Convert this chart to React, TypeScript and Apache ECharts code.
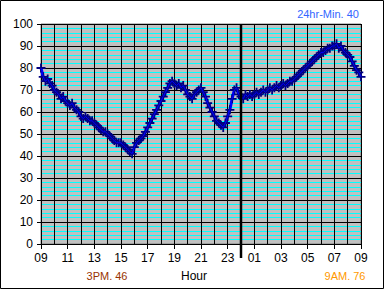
import React, { useEffect, useRef } from "react";
import * as echarts from "echarts";

// Temperature readings every 10 minutes, from 09:00 to 09:00 next day
const sampleMinutes = 10;
const startHour = 9;
const temps = [
  80, 76, 74, 75, 73, 72,
  70, 69, 68, 66, 67, 65,
  64, 63, 64, 62, 61, 60,
  58, 57, 58, 57, 56, 56,
  55, 54, 53, 52, 51, 51,
  50, 49, 48, 47, 46, 46,
  46, 45, 44, 43, 42, 41,
  44, 46, 47, 48, 49, 51,
  53, 55, 57, 59, 61, 63,
  65, 67, 69, 71, 73, 74,
  73, 72, 73, 71, 72, 70,
  68, 67, 66, 68, 69, 70,
  71, 69, 67, 64, 62, 60,
  58, 56, 55, 54, 53, 55,
  58, 61, 66, 70, 71, 68,
  67, 66, 68, 67, 68, 67,
  68, 69, 68, 69, 70, 69,
  70, 71, 70, 71, 72, 71,
  72, 73, 72, 73, 74, 74,
  75, 76, 77, 78, 79, 80,
  81, 82, 83, 84, 85, 86,
  87, 87, 88, 89, 89, 90,
  90, 91, 89, 90, 88, 87,
  86, 85, 83, 81, 79, 78,
  76,
];
const midnightHour = 15; // hours after 09:00
const minLabel = "24hr-Min. 40";
const startLabel = "3PM. 46";
const endLabel = "9AM. 76";
const xTitle = "Hour";

const FONT = "'Liberation Sans', Arial, sans-serif";

export default function App() {
  const ref = useRef<HTMLDivElement>(null);
  useEffect(() => {
    if (!ref.current) return;
    const chart = echarts.init(ref.current, undefined, { renderer: "svg" });
    const data = temps.map((v, i) => [(i * sampleMinutes) / 60, v]);
    const plus = "path://M2,0H3V2H5V3H3V5H2V3H0V2H2Z";
    chart.setOption({
      animation: false,
      backgroundColor: "#ffffff",
      grid: {
        left: 41,
        top: 24,
        right: 24,
        bottom: 46,
        show: true,
        backgroundColor: "#c0c0c0",
        borderColor: "#808080",
        borderWidth: 1,
      },
      xAxis: {
        type: "value",
        min: 0,
        max: 24,
        interval: 2,
        axisLine: { show: false },
        axisTick: { show: true, length: 5, lineStyle: { color: "#000", width: 1 } },
        axisLabel: {
          margin: 8,
          color: "#000",
          fontSize: 12,
          fontFamily: FONT,
          formatter: (v: number) => {
            const h = (startHour + v) % 24;
            return (h < 10 ? "0" : "") + h;
          },
        },
        splitLine: { show: true, lineStyle: { color: "#000", width: 1 } },
        minorTick: { show: false, splitNumber: 2 },
        minorSplitLine: { show: true, lineStyle: { color: "#000", width: 1 } },
      },
      yAxis: {
        type: "value",
        min: 0,
        max: 100,
        interval: 10,
        axisLine: { show: false },
        axisTick: { show: true, length: 4, lineStyle: { color: "#000", width: 1 } },
        axisLabel: { margin: 8, color: "#000", fontSize: 12, fontFamily: FONT },
        splitLine: { show: true, lineStyle: { color: "#000", width: 1 } },
        minorTick: { show: false, splitNumber: 5 },
        minorSplitLine: { show: true, lineStyle: { color: "#00ffff", width: 1 } },
      },
      series: [
        {
          type: "line",
          data,
          showSymbol: false,
          symbol: "none",
          lineStyle: { color: "#0000ff", width: 3 },
          z: 2,
        },
        {
          type: "scatter",
          data,
          symbol: plus,
          symbolSize: 9,
          itemStyle: { color: "#000080", opacity: 1 },
          z: 3,
        },
        {
          type: "line",
          data,
          showSymbol: false,
          symbol: "none",
          lineStyle: { color: "#0000ff", width: 1 },
          z: 4,
        },
      ],
    });
    const top = chart.convertToPixel({ gridIndex: 0 }, [midnightHour, 100]);
    const bot = chart.convertToPixel({ gridIndex: 0 }, [midnightHour, 0]);
    chart.setOption({
      graphic: [
        {
          type: "line",
          shape: { x1: top[0], y1: top[1], x2: bot[0], y2: bot[1] + 14 },
          style: { stroke: "#000", lineWidth: 2.5 },
          z: 10,
        },
        {
          type: "rect",
          shape: { x: 0.5, y: 0.5, width: 383, height: 288 },
          style: { fill: "none", stroke: "#000", lineWidth: 1 },
          z: 10,
        },
        {
          type: "text",
          x: 328,
          y: 14,
          style: {
            text: minLabel,
            fill: "#3366ff",
            font: `11px ${FONT}`,
            textAlign: "center",
            textVerticalAlign: "middle",
          },
        },
        {
          type: "text",
          x: 107,
          y: 276,
          style: {
            text: startLabel,
            fill: "#993300",
            font: `11px ${FONT}`,
            textAlign: "center",
            textVerticalAlign: "middle",
          },
        },
        {
          type: "text",
          x: 194,
          y: 276,
          style: {
            text: xTitle,
            fill: "#000",
            font: `12px ${FONT}`,
            textAlign: "center",
            textVerticalAlign: "middle",
          },
        },
        {
          type: "text",
          x: 345,
          y: 276,
          style: {
            text: endLabel,
            fill: "#ff9900",
            font: `11px ${FONT}`,
            textAlign: "center",
            textVerticalAlign: "middle",
          },
        },
      ],
    });
    return () => chart.dispose();
  }, []);
  return (
    <div
      ref={ref}
      style={{ position: "absolute", left: 0, top: 0, width: 385, height: 290 }}
    />
  );
}
